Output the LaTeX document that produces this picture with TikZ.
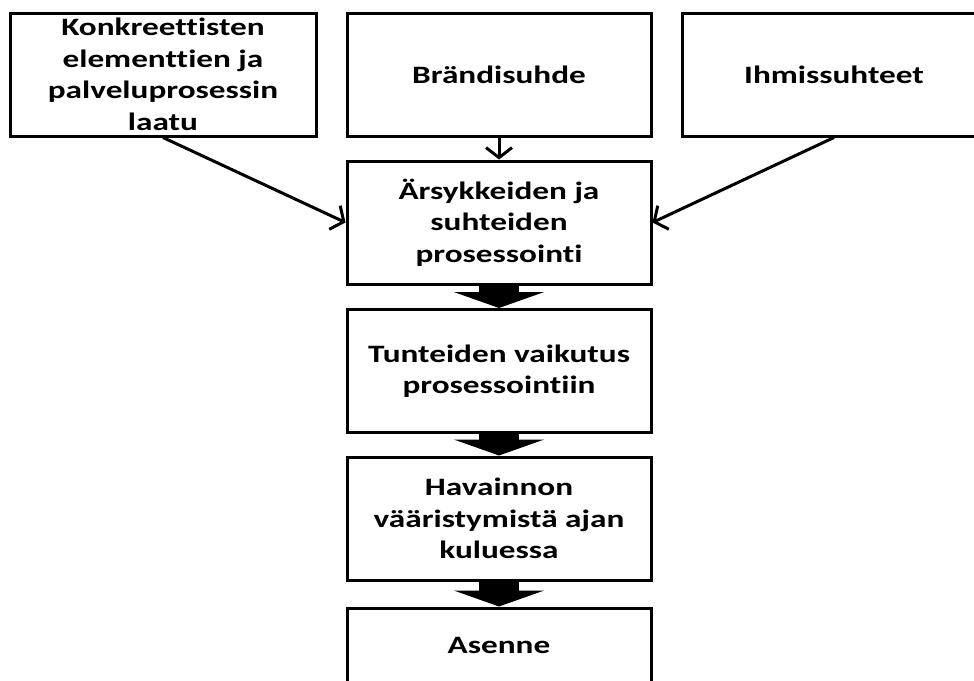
\documentclass[tikz,border=0pt]{standalone}
\usepackage{fontspec}
\setmainfont{Carlito}[FakeStretch=1.33, Ligatures=NoCommon]
\usetikzlibrary{arrows.meta}
\tikzset{
  laatikko/.style={draw, line width=3pt, minimum width=304pt, minimum height=123pt,
    align=center, inner sep=0pt, font=\bfseries\fontsize{25}{31.5}\selectfont},
  nuoli/.style={line width=3pt, -{Straight Barb[length=10pt, width=26pt]}},
  paksu/.style={line width=40pt, -{Triangle[length=16pt, width=90pt]}},
}

\begin{document}
\begin{tikzpicture}[x=1pt, y=-1pt]
  \useasboundingbox (0,0) rectangle (974,680);
  \clip (0,0) rectangle (974,680);
  % ylarivi
  \node[laatikko, minimum width=306pt] (laatu) at (163,74.5)
    {Konkreettisten\\elementtien ja\\palveluprosessin\\laatu};
  \node[laatikko] (brandi) at (499,74.5) {Brändisuhde};
  \node[laatikko] (ihmis) at (834,74.5) {Ihmissuhteet};
  % keskisarake
  \node[laatikko] (arsyke) at (499,222.5) {Ärsykkeiden ja\\suhteiden\\prosessointi};
  \node[laatikko] (tunne) at (499,371) {Tunteiden vaikutus\\prosessointiin};
  \node[laatikko] (havainto) at (499,518.5) {Havainnon\\vääristymistä ajan\\kuluessa};
  \node[laatikko, minimum height=74pt] (asenne) at (499,645) {Asenne};
  % nuolet
  \draw[nuoli] (laatu.south) -- (arsyke.west);
  \draw[nuoli] (brandi.south) -- (arsyke.north);
  \draw[nuoli] (ihmis.south) -- (arsyke.east);
  \draw[paksu] (arsyke.south) -- (tunne.north);
  \draw[paksu] (tunne.south) -- (havainto.north);
  \draw[paksu] (havainto.south) -- (asenne.north);
\end{tikzpicture}
\end{document}
